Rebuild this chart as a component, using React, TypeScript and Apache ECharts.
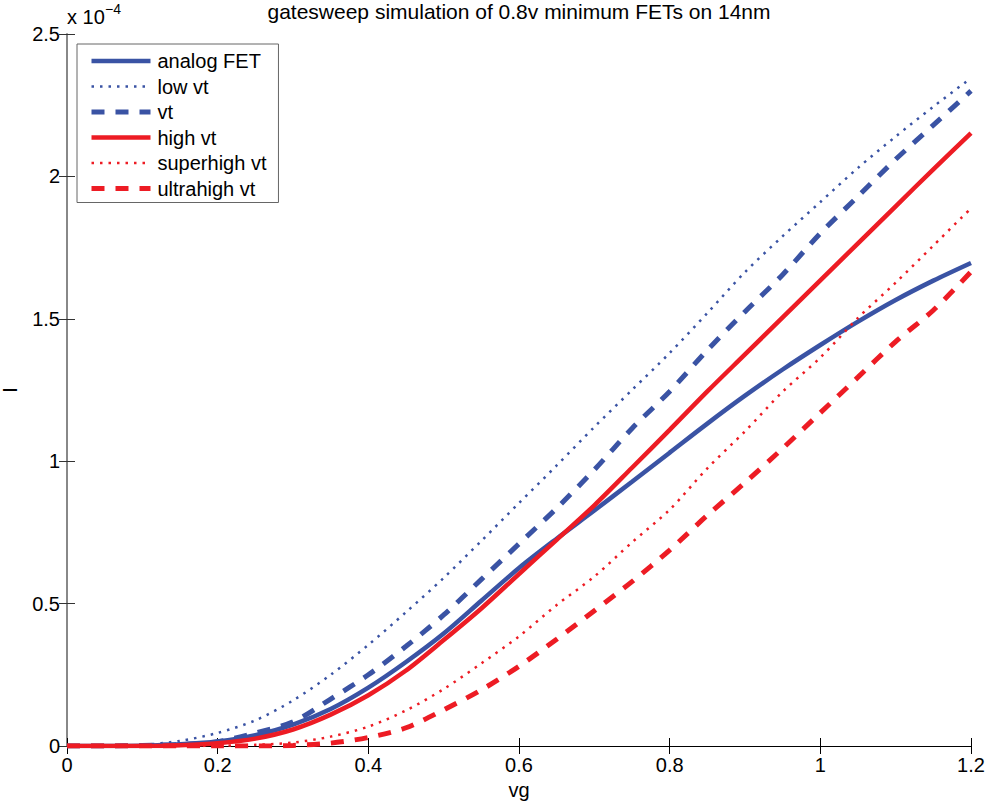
import React, { useEffect, useRef } from "react";
import * as echarts from "echarts";

// gate voltage sweep (V)
const vg = [0, 0.05, 0.1, 0.15, 0.2, 0.25, 0.3, 0.35, 0.4, 0.45, 0.5, 0.55, 0.6, 0.65, 0.7, 0.75, 0.8, 0.85, 0.9, 0.95, 1.0, 1.05, 1.1, 1.15, 1.2];

// drain current, in units of 1e-4 A
const analogFET = [0, 0, 0.001, 0.006, 0.016, 0.038, 0.075, 0.13, 0.205, 0.295, 0.395, 0.51, 0.625, 0.728, 0.827, 0.928, 1.03, 1.132, 1.23, 1.322, 1.408, 1.49, 1.566, 1.634, 1.696];
const lowVt = [0, 0, 0.004, 0.018, 0.046, 0.09, 0.16, 0.25, 0.355, 0.47, 0.59, 0.72, 0.853, 0.985, 1.12, 1.25, 1.38, 1.52, 1.664, 1.79, 1.91, 2.03, 2.14, 2.245, 2.345];
const vt = [0, 0, 0.002, 0.005, 0.015, 0.046, 0.085, 0.165, 0.25, 0.35, 0.46, 0.585, 0.71, 0.835, 0.97, 1.115, 1.245, 1.39, 1.525, 1.655, 1.8, 1.93, 2.06, 2.18, 2.3];
const highVt = [0, 0, 0, 0.003, 0.01, 0.026, 0.058, 0.11, 0.178, 0.265, 0.372, 0.483, 0.604, 0.724, 0.845, 0.977, 1.11, 1.245, 1.375, 1.505, 1.635, 1.765, 1.895, 2.025, 2.152];
const superhighVt = [0, 0, 0, 0, 0.001, 0.004, 0.012, 0.033, 0.068, 0.125, 0.2, 0.29, 0.385, 0.495, 0.595, 0.715, 0.83, 0.975, 1.105, 1.244, 1.364, 1.503, 1.627, 1.757, 1.888];
const ultrahighVt = [0, 0, 0, 0, 0, 0, 0.002, 0.01, 0.03, 0.064, 0.127, 0.197, 0.28, 0.375, 0.475, 0.577, 0.688, 0.81, 0.925, 1.045, 1.17, 1.295, 1.42, 1.53, 1.665];

const seriesNames = ["analog FET", "low vt", "vt", "high vt", "superhigh vt", "ultrahigh vt"];
const seriesValues = [analogFET, lowVt, vt, highVt, superhighVt, ultrahighVt];

const BLUE = "#3A53A4";
const RED = "#ED1C24";
const FONT = "'Liberation Sans', Arial, Helvetica, sans-serif";

const styles: { color: string; type: any; width: number }[] = [
  { color: BLUE, type: "solid", width: 4.5 },
  { color: BLUE, type: [2.5, 6], width: 2.5 },
  { color: BLUE, type: [13, 11], width: 5 },
  { color: RED, type: "solid", width: 4.5 },
  { color: RED, type: [2.5, 6], width: 2.5 },
  { color: RED, type: [13, 11], width: 5 },
];

export default function App() {
  const ref = useRef<HTMLDivElement>(null);
  useEffect(() => {
    if (!ref.current) return;
    const chart = echarts.init(ref.current, undefined, { renderer: "svg" });
    const series = seriesNames.map((name, i) => ({
      name,
      type: "line",
      data: vg.map((x, j) => [x, seriesValues[i][j]]),
      showSymbol: false,
      symbol: "none",
      smooth: 0.3,
      lineStyle: { color: styles[i].color, type: styles[i].type, width: styles[i].width, cap: "butt" },
      itemStyle: { color: styles[i].color },
      emphasis: { disabled: true },
      z: 2,
    }));
    const hAxisLine = { show: true, lineStyle: { color: "#000", width: 1 } };
    const vAxisLine = { show: true, lineStyle: { color: "#808080", width: 1.5 } };
    chart.setOption({
      animation: false,
      backgroundColor: "#fff",
      textStyle: { fontFamily: FONT },
      title: {
        text: "gatesweep simulation of 0.8v minimum FETs on 14nm",
        left: 519,
        textAlign: "center",
        top: 1,
        padding: 0,
        textStyle: { fontSize: 21, fontWeight: "normal", color: "#000", fontFamily: FONT },
      },
      legend: {
        orient: "vertical",
        left: 77,
        top: 44,
        itemWidth: 59,
        itemHeight: 20,
        itemGap: 5.5,
        padding: [7, 12, 4, 12],
        borderColor: "#666",
        borderWidth: 1,
        backgroundColor: "#fff",
        selectedMode: false,
        itemStyle: { color: "rgba(0,0,0,0)", borderWidth: 0, borderColor: "rgba(0,0,0,0)" },
        textStyle: { fontSize: 20, color: "#000", fontFamily: FONT, padding: [0, 0, 0, 2] },
        data: seriesNames.map((name, i) => ({
          name,
          lineStyle: { color: styles[i].color, type: styles[i].type, width: styles[i].width },
        })),
      },
      grid: { left: 67, right: 15, top: 34, bottom: 61, containLabel: false, outerBoundsMode: "none" },
      xAxis: [
        {
          type: "value",
          min: 0,
          max: 1.2,
          interval: 0.2,
          position: "bottom",
          name: "vg",
          nameLocation: "middle",
          nameGap: 33,
          nameTextStyle: { fontSize: 20, color: "#000", fontFamily: FONT },
          axisLine: hAxisLine,
          axisTick: { show: true, inside: true, length: 8, lineStyle: { color: "#000" } },
          axisLabel: { fontSize: 20, color: "#000", margin: 9, fontFamily: FONT },
          splitLine: { show: false },
        },
        {
          type: "value",
          min: 0,
          max: 1.2,
          interval: 0.2,
          position: "top",
          axisLine: hAxisLine,
          axisTick: { show: true, inside: true, length: 8, lineStyle: { color: "#000" } },
          axisLabel: { show: false },
          splitLine: { show: false },
        },
      ],
      yAxis: [
        {
          type: "value",
          min: 0,
          max: 2.5,
          interval: 0.5,
          position: "left",
          name: "I",
          nameLocation: "middle",
          nameRotate: 90,
          nameGap: 47,
          nameTextStyle: { fontSize: 20, color: "#000", fontFamily: FONT },
          axisLine: vAxisLine,
          axisTick: { show: true, inside: true, length: 8, lineStyle: { color: "#333" } },
          axisLabel: { fontSize: 20, color: "#000", margin: 7, fontFamily: FONT },
          splitLine: { show: false },
        },
        {
          type: "value",
          min: 0,
          max: 2.5,
          interval: 0.5,
          position: "right",
          axisLine: vAxisLine,
          axisTick: { show: true, inside: true, length: 8, lineStyle: { color: "#333" } },
          axisLabel: { show: false },
          splitLine: { show: false },
        },
      ],
      graphic: [
        {
          type: "text",
          left: 67,
          top: 7,
          style: { text: "x 10", fontSize: 20, fontFamily: FONT, fill: "#000" },
        },
        {
          type: "text",
          left: 105,
          top: 2,
          style: { text: "\u22124", fontSize: 14, fontFamily: FONT, fill: "#000" },
        },
      ],
      series,
    });
    return () => chart.dispose();
  }, []);
  return <div ref={ref} style={{ position: "fixed", left: 0, top: 0, width: 986, height: 807 }} />;
}
